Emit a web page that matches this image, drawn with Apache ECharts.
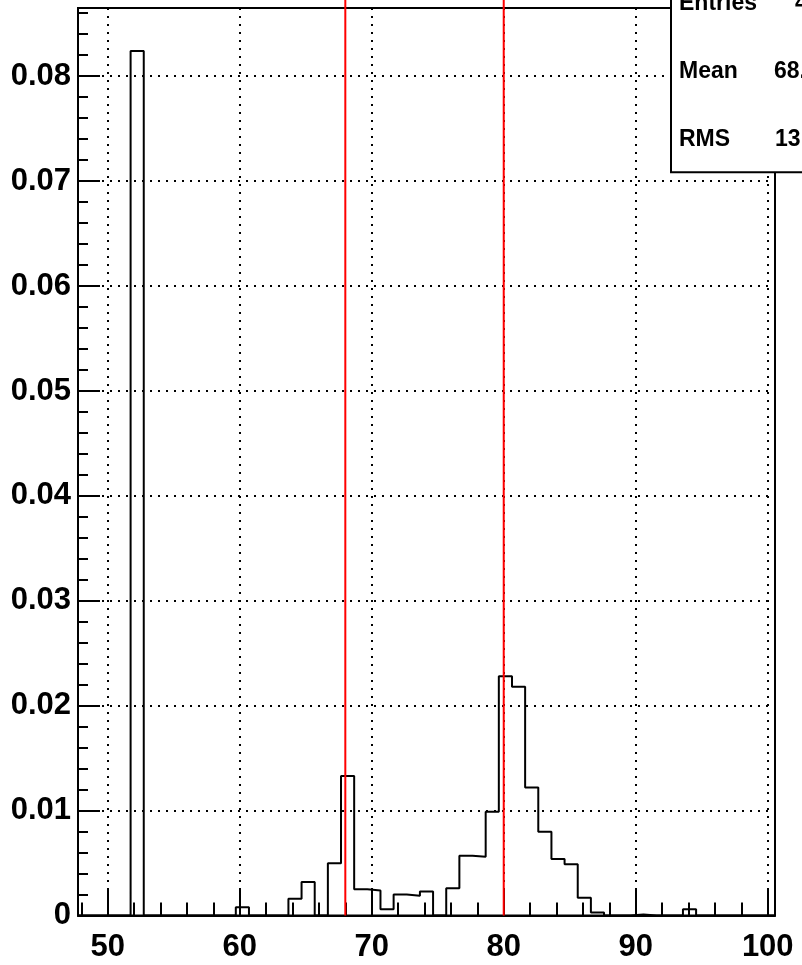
<!DOCTYPE html>
<html><head><meta charset="utf-8">
<script src="https://cdn.jsdelivr.net/npm/echarts@6/dist/echarts.min.js"></script>
<style>html,body{margin:0;padding:0;background:#fff}#c{width:802px;height:965px}</style>
</head><body><div id="c"></div>
<script>
// Histogram definition (53 bins)
const HIST_MIN = 47.75;
const HIST_MAX = 100.55;
const binValues = [
  0, 0, 0, 0, 0.0824, 0, 0, 0, 0, 0,
  0, 0, 0.0008, 0, 0, 0, 0.0016, 0.0032, 0, 0.0050,
  0.0133, 0.0025, 0.0024, 0.0006, 0.0020, 0.0019, 0.0023, 0, 0.0026, 0.0057,
  0.0056, 0.0099, 0.0228, 0.0218, 0.0122, 0.0080, 0.0054, 0.0049, 0.0017, 0.0003,
  0, 0, 0.0001, 0, 0, 0, 0.0006, 0, 0, 0,
  0, 0, 0
];
const markerLines = [68, 80];
const Y_MAX = 0.0865;
const statsLabels = ['Entries', 'Mean', 'RMS'];
const statsValues = ['4', '68.3', '13.4'];

const nBins = binValues.length;
const binW = (HIST_MAX - HIST_MIN) / nBins;
const histData = binValues.map((v, k) => [HIST_MIN + k * binW, v]);
histData.push([HIST_MAX, 0]);

const FONT = '"Liberation Sans", Arial, sans-serif';
const dotted = { color: '#000', width: 2, type: [2, 6] };

const chart = echarts.init(document.getElementById('c'), null, { renderer: 'canvas' });

const series = [{
  type: 'line', step: 'end', data: histData, symbol: 'none',
  lineStyle: { color: '#000', width: 2 }, silent: true, z: 3
}];
markerLines.forEach(x => series.push({
  type: 'line', data: [[x, 0], [x, 0.095]], symbol: 'none', clip: false,
  lineStyle: { color: '#ff0000', width: 2 }, silent: true, z: 4
}));

const statsGraphics = [{
  type: 'rect', z: 100,
  shape: { x: 671, y: -5, width: 200, height: 177.3 },
  style: { fill: '#fff', stroke: '#000', lineWidth: 2 }
}];
const rowY = [3.3, 71.7, 140];
const valX = [795, 774, 775];
statsLabels.forEach((t, i) => {
  statsGraphics.push({ type: 'text', z: 101, style: { text: t, x: 679, y: rowY[i], font: 'bold 23px ' + FONT, fill: '#000', verticalAlign: 'middle' } });
  statsGraphics.push({ type: 'text', z: 101, style: { text: statsValues[i], x: valX[i], y: rowY[i], font: 'bold 23px ' + FONT, fill: '#000', verticalAlign: 'middle' } });
});

chart.setOption({
  animation: false,
  backgroundColor: '#fff',
  grid: { left: 78, right: 27, top: 8, bottom: 49.4, show: true, borderColor: '#000', borderWidth: 2, backgroundColor: 'transparent' },
  xAxis: {
    type: 'value', min: HIST_MIN, max: HIST_MAX, splitNumber: 5,
    axisLine: { show: true, onZero: false, lineStyle: { color: '#000', width: 2 } },
    axisTick: { show: true, inside: true, length: 26, lineStyle: { color: '#000', width: 2 } },
    minorTick: { show: true, splitNumber: 5, length: 13, lineStyle: { color: '#000', width: 2 } },
    splitLine: { show: true, lineStyle: dotted },
    axisLabel: { showMinLabel: false, showMaxLabel: false, margin: 16, color: '#000', fontSize: 31, fontWeight: 'bold', fontFamily: FONT }
  },
  yAxis: {
    type: 'value', min: 0, max: Y_MAX, interval: 0.01,
    axisLine: { show: true, lineStyle: { color: '#000', width: 2 } },
    axisTick: { show: true, inside: true, length: 22, lineStyle: { color: '#000', width: 2 } },
    minorTick: { show: true, splitNumber: 5, length: 10, lineStyle: { color: '#000', width: 2 } },
    splitLine: { show: true, lineStyle: dotted },
    axisLabel: { showMaxLabel: false, margin: 7, color: '#000', fontSize: 31, fontWeight: 'bold', fontFamily: FONT,
      padding: [4, 0, 0, 0],
      formatter: v => v === 0 ? '0' : v.toFixed(2) }
  },
  series: series,
  graphic: statsGraphics
});
</script>
</body></html>
